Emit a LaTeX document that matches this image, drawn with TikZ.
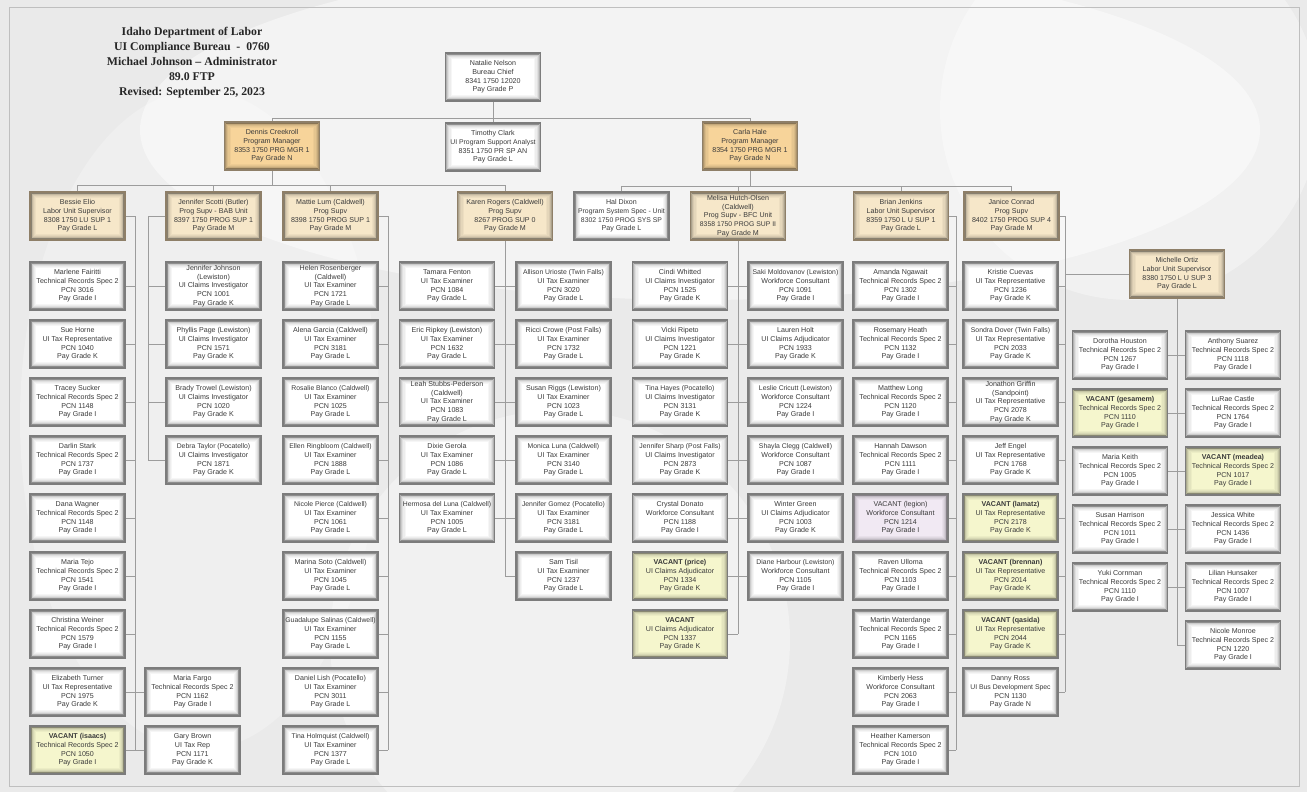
\documentclass[tikz,border=0pt]{standalone}
\usepackage{fontspec}
\setmainfont{Liberation Sans}
\newfontfamily\ttlfont{Liberation Serif}
\definecolor{bggray}{HTML}{EAEAEA}
\definecolor{linegray}{HTML}{9C9C9C}
\definecolor{edgegray}{HTML}{7C7C7C}
\definecolor{edgebrown}{HTML}{8E7F68}
\definecolor{txtgray}{HTML}{3A3A3A}
\definecolor{orng}{HTML}{F7D49A}
\definecolor{tanc}{HTML}{F6E7C9}
\definecolor{yel}{HTML}{F5F6CD}
\definecolor{lav}{HTML}{F1E9F3}
\newcommand{\sq}[1]{{\fontsize{6.85}{8.7}\selectfont #1}}
\tikzset{
 inshade/.style={path picture={
   \foreach \myd/\myo in {0.9/0.30,2.1/0.20,3.3/0.12,4.5/0.07,5.7/0.035}{
     \draw[black,opacity=\myo,line width=1.3pt]
       ([xshift=\myd pt,yshift=-\myd pt]path picture bounding box.north west)
       rectangle ([xshift=-\myd pt,yshift=\myd pt]path picture bounding box.south east);
   }}},
 conn/.style={draw=linegray, line width=0.7pt},
 base/.style={draw=edgegray, line width=1.5pt, minimum width=95pt, minimum height=48pt,
   inner sep=0pt, align=center, font=\fontsize{7.1}{8.7}\selectfont, text=txtgray, inshade},
 wbox/.style={base, fill=white},
 obox/.style={base, fill=orng, draw=edgebrown},
 tbox/.style={base, fill=tanc, draw=edgebrown},
 ybox/.style={base, fill=yel},
 lbox/.style={base, fill=lav},
}
\begin{document}
\begin{tikzpicture}[x=1pt,y=-1pt]
\useasboundingbox (0,0) rectangle (1307,792);
% background
\fill[bggray] (0,0) rectangle (1307,792);
\fill[white,opacity=0.45] (700,130) ellipse (560 and 170);
\fill[white,opacity=0.35] (560,640) circle (230);
\fill[white,opacity=0.35] (1130,110) circle (190);
\fill[white,opacity=0.25] (200,420) ellipse (180 and 330);
\draw[draw=white!75!black, line width=0.8pt] (9,7) rectangle (1299,786);

% title
\node[font=\ttlfont\bfseries\fontsize{11.8}{15}\selectfont, text=black!85, align=center] (title) at (192,63)
 {Idaho Department of Labor\\UI Compliance Bureau \ - \ 0760\\Michael Johnson – Administrator\\89.0 FTP\\Revised: September 25, 2023};

% levels 1-2
\node[wbox] (nn) at (493,77) {Natalie Nelson\\Bureau Chief\\8341 1750 12020\\Pay Grade P};
\node[wbox] (tc) at (493,147) {Timothy Clark\\\sq{UI Program Support Analyst}\\8351 1750 PR SP AN\\Pay Grade L};
\node[obox] (dc) at (272,146) {Dennis Creekroll\\Program Manager\\8353 1750 PRG MGR 1\\Pay Grade N};
\node[obox] (ch) at (750,146) {Carla Hale\\Program Manager\\8354 1750 PRG MGR 1\\Pay Grade N};

% level 3
\node[tbox] (be) at (77.5,216) {Bessie Elio\\Labor Unit Supervisor\\8308 1750 LU SUP 1\\Pay Grade L};
\node[tbox] (js) at (213.5,216) {Jennifer Scotti (Butler)\\Prog Supv - BAB Unit\\8397 1750 PROG SUP 1\\Pay Grade M};
\node[tbox] (ml) at (330.5,216) {Mattie Lum (Caldwell)\\Prog Supv\\8398 1750 PROG SUP 1\\Pay Grade M};
\node[tbox] (kr) at (505,216) {Karen Rogers (Caldwell)\\Prog Supv\\8267 PROG SUP 0\\Pay Grade M};
\node[wbox] (hd) at (621.5,216) {Hal Dixon\\\sq{Program System Spec - Unit}\\\sq{8302 1750 PROG SYS SP}\\Pay Grade L};
\node[tbox] (mh) at (738,216) {Melisa Hutch-Olsen\\(Caldwell)\\Prog Supv - BFC Unit\\\sq{8358 1750 PROG SUP II}\\Pay Grade M};
\node[tbox] (bj) at (901,216) {Brian Jenkins\\Labor Unit Supervisor\\8359 1750 L U SUP 1\\Pay Grade L};
\node[tbox] (jc) at (1011.5,216) {Janice Conrad\\Prog Supv\\8402 1750 PROG SUP 4\\Pay Grade M};
\node[tbox] (mo) at (1177,274) {Michelle Ortiz\\Labor Unit Supervisor\\8380 1750 L U SUP 3\\Pay Grade L};

% column A (Bessie)
\node[wbox] (a1) at (77.5,286) {Marlene Fairitti\\Technical Records Spec 2\\PCN 3016\\Pay Grade I};
\node[wbox] (a2) at (77.5,344) {Sue Horne\\UI Tax Representative\\PCN 1040\\Pay Grade K};
\node[wbox] (a3) at (77.5,402) {Tracey Sucker\\Technical Records Spec 2\\PCN 1148\\Pay Grade I};
\node[wbox] (a4) at (77.5,460) {Darlin Stark\\Technical Records Spec 2\\PCN 1737\\Pay Grade I};
\node[wbox] (a5) at (77.5,518) {Dana Wagner\\Technical Records Spec 2\\PCN 1148\\Pay Grade I};
\node[wbox] (a6) at (77.5,576) {Maria Tejo\\Technical Records Spec 2\\PCN 1541\\Pay Grade I};
\node[wbox] (a7) at (77.5,634) {Christina Weiner\\Technical Records Spec 2\\PCN 1579\\Pay Grade I};
\node[wbox] (a8) at (77.5,692) {Elizabeth Turner\\UI Tax Representative\\PCN 1975\\Pay Grade K};
\node[ybox] (a9) at (77.5,750) {\textbf{VACANT (isaacs)}\\Technical Records Spec 2\\PCN 1050\\Pay Grade I};
\node[wbox] (m8) at (192.5,692) {Maria Fargo\\Technical Records Spec 2\\PCN 1162\\Pay Grade I};
\node[wbox] (m9) at (192.5,750) {Gary Brown\\UI Tax Rep\\PCN 1171\\Pay Grade K};

% column B (Jennifer)
\node[wbox] (b1) at (213.5,286) {Jennifer Johnson\\(Lewiston)\\UI Claims Investigator\\PCN 1001\\Pay Grade K};
\node[wbox] (b2) at (213.5,344) {Phyllis Page (Lewiston)\\UI Claims Investigator\\PCN 1571\\Pay Grade K};
\node[wbox] (b3) at (213.5,402) {Brady Trowel (Lewiston)\\UI Claims Investigator\\PCN 1020\\Pay Grade K};
\node[wbox] (b4) at (213.5,460) {\sq{Debra Taylor (Pocatello)}\\UI Claims Investigator\\PCN 1871\\Pay Grade K};

% column C (Mattie)
\node[wbox] (c1) at (330.5,286) {Helen Rosenberger\\(Caldwell)\\UI Tax Examiner\\PCN 1721\\Pay Grade L};
\node[wbox] (c2) at (330.5,344) {Alena Garcia (Caldwell)\\UI Tax Examiner\\PCN 3181\\Pay Grade L};
\node[wbox] (c3) at (330.5,402) {\sq{Rosalie Blanco (Caldwell)}\\UI Tax Examiner\\PCN 1025\\Pay Grade L};
\node[wbox] (c4) at (330.5,460) {\sq{Ellen Ringbloom (Caldwell)}\\UI Tax Examiner\\PCN 1888\\Pay Grade L};
\node[wbox] (c5) at (330.5,518) {\sq{Nicole Pierce (Caldwell)}\\UI Tax Examiner\\PCN 1061\\Pay Grade L};
\node[wbox] (c6) at (330.5,576) {Marina Soto (Caldwell)\\UI Tax Examiner\\PCN 1045\\Pay Grade L};
\node[wbox] (c7) at (330.5,634) {\sq{Guadalupe Salinas (Caldwell)}\\UI Tax Examiner\\PCN 1155\\Pay Grade L};
\node[wbox] (c8) at (330.5,692) {Daniel Lish (Pocatello)\\UI Tax Examiner\\PCN 3011\\Pay Grade L};
\node[wbox] (c9) at (330.5,750) {\sq{Tina Holmquist (Caldwell)}\\UI Tax Examiner\\PCN 1377\\Pay Grade L};

% columns D (Karen)
\node[wbox] (d1) at (447,286) {Tamara Fenton\\UI Tax Examiner\\PCN 1084\\Pay Grade L};
\node[wbox] (d2) at (447,344) {Eric Ripkey (Lewiston)\\UI Tax Examiner\\PCN 1632\\Pay Grade L};
\node[wbox] (d3) at (447,402) {Leah Stubbs-Pederson\\(Caldwell)\\UI Tax Examiner\\PCN 1083\\Pay Grade L};
\node[wbox] (d4) at (447,460) {Dixie Gerola\\UI Tax Examiner\\PCN 1086\\Pay Grade L};
\node[wbox] (d5) at (447,518) {\sq{Hermosa del Luna (Caldwell)}\\UI Tax Examiner\\PCN 1005\\Pay Grade L};
\node[wbox] (q1) at (563.5,286) {\sq{Allison Urioste (Twin Falls)}\\UI Tax Examiner\\PCN 3020\\Pay Grade L};
\node[wbox] (q2) at (563.5,344) {Ricci Crowe (Post Falls)\\UI Tax Examiner\\PCN 1732\\Pay Grade L};
\node[wbox] (q3) at (563.5,402) {Susan Riggs (Lewiston)\\UI Tax Examiner\\PCN 1023\\Pay Grade L};
\node[wbox] (q4) at (563.5,460) {\sq{Monica Luna (Caldwell)}\\UI Tax Examiner\\PCN 3140\\Pay Grade L};
\node[wbox] (q5) at (563.5,518) {\sq{Jennifer Gomez (Pocatello)}\\UI Tax Examiner\\PCN 3181\\Pay Grade L};
\node[wbox] (q6) at (563.5,576) {Sam Tisil\\UI Tax Examiner\\PCN 1237\\Pay Grade L};

% columns E (Melisa)
\node[wbox] (e1) at (680,286) {Cindi Whitted\\UI Claims Investigator\\PCN 1525\\Pay Grade K};
\node[wbox] (e2) at (680,344) {Vicki Ripeto\\UI Claims Investigator\\PCN 1221\\Pay Grade K};
\node[wbox] (e3) at (680,402) {\sq{Tina Hayes (Pocatello)}\\UI Claims Investigator\\PCN 3131\\Pay Grade K};
\node[wbox] (e4) at (680,460) {\sq{Jennifer Sharp (Post Falls)}\\UI Claims Investigator\\PCN 2873\\Pay Grade K};
\node[wbox] (e5) at (680,518) {Crystal Donato\\Workforce Consultant\\PCN 1188\\Pay Grade I};
\node[ybox] (e6) at (680,576) {\textbf{VACANT (price)}\\UI Claims Adjudicator\\PCN 1334\\Pay Grade K};
\node[ybox] (e7) at (680,634) {\textbf{VACANT}\\UI Claims Adjudicator\\PCN 1337\\Pay Grade K};
\node[wbox] (s1) at (795.5,286) {\sq{Saki Moldovanov (Lewiston)}\\Workforce Consultant\\PCN 1091\\Pay Grade I};
\node[wbox] (s2) at (795.5,344) {Lauren Holt\\UI Claims Adjudicator\\PCN 1933\\Pay Grade K};
\node[wbox] (s3) at (795.5,402) {\sq{Leslie Cricutt (Lewiston)}\\Workforce Consultant\\PCN 1224\\Pay Grade I};
\node[wbox] (s4) at (795.5,460) {\sq{Shayla Clegg (Caldwell)}\\Workforce Consultant\\PCN 1087\\Pay Grade I};
\node[wbox] (s5) at (795.5,518) {Winter Green\\UI Claims Adjudicator\\PCN 1003\\Pay Grade K};
\node[wbox] (s6) at (795.5,576) {\sq{Diane Harbour (Lewiston)}\\Workforce Consultant\\PCN 1105\\Pay Grade I};

% column F (Brian)
\node[wbox] (f1) at (900.5,286) {Amanda Ngawait\\Technical Records Spec 2\\PCN 1302\\Pay Grade I};
\node[wbox] (f2) at (900.5,344) {Rosemary Heath\\Technical Records Spec 2\\PCN 1132\\Pay Grade I};
\node[wbox] (f3) at (900.5,402) {Matthew Long\\Technical Records Spec 2\\PCN 1120\\Pay Grade I};
\node[wbox] (f4) at (900.5,460) {Hannah Dawson\\Technical Records Spec 2\\PCN 1111\\Pay Grade I};
\node[lbox] (f5) at (900.5,518) {VACANT (legion)\\Workforce Consultant\\PCN 1214\\Pay Grade I};
\node[wbox] (f6) at (900.5,576) {Raven Ulloma\\Technical Records Spec 2\\PCN 1103\\Pay Grade I};
\node[wbox] (f7) at (900.5,634) {Martin Waterdange\\Technical Records Spec 2\\PCN 1165\\Pay Grade I};
\node[wbox] (f8) at (900.5,692) {Kimberly Hess\\Workforce Consultant\\PCN 2063\\Pay Grade I};
\node[wbox] (f9) at (900.5,750) {Heather Kamerson\\Technical Records Spec 2\\PCN 1010\\Pay Grade I};

% column G (Janice)
\node[wbox] (g1) at (1010.5,286) {Kristie Cuevas\\UI Tax Representative\\PCN 1236\\Pay Grade K};
\node[wbox] (g2) at (1010.5,344) {\sq{Sondra Dover (Twin Falls)}\\UI Tax Representative\\PCN 2033\\Pay Grade K};
\node[wbox] (g3) at (1010.5,402) {Jonathon Griffin\\(Sandpoint)\\UI Tax Representative\\PCN 2078\\Pay Grade K};
\node[wbox] (g4) at (1010.5,460) {Jeff Engel\\UI Tax Representative\\PCN 1768\\Pay Grade K};
\node[ybox] (g5) at (1010.5,518) {\textbf{VACANT (lamatz)}\\UI Tax Representative\\PCN 2178\\Pay Grade K};
\node[ybox] (g6) at (1010.5,576) {\textbf{VACANT (brennan)}\\UI Tax Representative\\PCN 2014\\Pay Grade K};
\node[ybox] (g7) at (1010.5,634) {\textbf{VACANT (qasida)}\\UI Tax Representative\\PCN 2044\\Pay Grade K};
\node[wbox] (g8) at (1010.5,692) {Danny Ross\\\sq{UI Bus Development Spec}\\PCN 1130\\Pay Grade N};

% columns H (Michelle)
\node[wbox] (h1) at (1120,355) {Dorotha Houston\\Technical Records Spec 2\\PCN 1267\\Pay Grade I};
\node[ybox] (h2) at (1120,413) {\textbf{VACANT (gesamem)}\\Technical Records Spec 2\\PCN 1110\\Pay Grade I};
\node[wbox] (h3) at (1120,471) {Maria Keith\\Technical Records Spec 2\\PCN 1005\\Pay Grade I};
\node[wbox] (h4) at (1120,529) {Susan Harrison\\Technical Records Spec 2\\PCN 1011\\Pay Grade I};
\node[wbox] (h5) at (1120,587) {Yuki Cornman\\Technical Records Spec 2\\PCN 1110\\Pay Grade I};
\node[wbox] (v1) at (1233,355) {Anthony Suarez\\Technical Records Spec 2\\PCN 1118\\Pay Grade I};
\node[wbox] (v2) at (1233,413) {LuRae Castle\\Technical Records Spec 2\\PCN 1764\\Pay Grade I};
\node[ybox] (v3) at (1233,471) {\textbf{VACANT (meadea)}\\Technical Records Spec 2\\PCN 1017\\Pay Grade I};
\node[wbox] (v4) at (1233,529) {Jessica White\\Technical Records Spec 2\\PCN 1436\\Pay Grade I};
\node[wbox] (v5) at (1233,587) {Lilian Hunsaker\\Technical Records Spec 2\\PCN 1007\\Pay Grade I};
\node[wbox] (v6) at (1233,645) {Nicole Monroe\\Technical Records Spec 2\\PCN 1220\\Pay Grade I};

% ---------- connectors ----------
\coordinate (busD) at (0,185);
\coordinate (busC) at (0,186);
\coordinate (tA) at (135,0);
\coordinate (tB) at (148,0);
\coordinate (tC) at (388,0);
\coordinate (tD) at (505,0);
\coordinate (tE) at (738,0);
\coordinate (tF) at (956,0);
\coordinate (tG) at (1065,0);
\coordinate (tH) at (1177,0);

\draw[conn] (nn.south) -- (tc.north);
\draw[conn] (dc.north) -- ++(0,-3) -| (ch.north);

\draw[conn] (dc.south) -- (dc.south |- busD);
\draw[conn] (be.north) -- (be.north |- busD) -- (kr.north |- busD) -- (kr.north);
\draw[conn] (js.north) -- (js.north |- busD);
\draw[conn] (ml.north) -- (ml.north |- busD);

\draw[conn] (ch.south) -- (ch.south |- busC);
\draw[conn] (hd.north) -- (hd.north |- busC) -- (jc.north |- busC) -- (jc.north);
\draw[conn] (mh.north) -- (mh.north |- busC);
\draw[conn] (bj.north) -- (bj.north |- busC);

% Bessie
\draw[conn] (be.east) -- (be.east -| tA) -- (a9.east -| tA);
\foreach \n in {a1,a2,a3,a4,a5,a6,a7,a8,a9} \draw[conn] (\n.east) -- (\n.east -| tA);
\foreach \n in {m8,m9} \draw[conn] (\n.west) -- (\n.west -| tA);
% Jennifer
\draw[conn] (js.west) -- (js.west -| tB) -- (b4.west -| tB);
\foreach \n in {b1,b2,b3,b4} \draw[conn] (\n.west) -- (\n.west -| tB);
% Mattie
\draw[conn] (ml.east) -- (ml.east -| tC) -- (c9.east -| tC);
\foreach \n in {c1,c2,c3,c4,c5,c6,c7,c8,c9} \draw[conn] (\n.east) -- (\n.east -| tC);
% Karen
\draw[conn] (kr.south) -- (kr.south |- q6.west);
\foreach \n in {d1,d2,d3,d4,d5} \draw[conn] (\n.east) -- (\n.east -| tD);
\foreach \n in {q1,q2,q3,q4,q5,q6} \draw[conn] (\n.west) -- (\n.west -| tD);
% Melisa
\draw[conn] (mh.south) -- (mh.south |- e7.east);
\foreach \n in {e1,e2,e3,e4,e5,e6,e7} \draw[conn] (\n.east) -- (\n.east -| tE);
\foreach \n in {s1,s2,s3,s4,s5,s6} \draw[conn] (\n.west) -- (\n.west -| tE);
% Brian
\draw[conn] (bj.east) -- (bj.east -| tF) -- (f9.east -| tF);
\foreach \n in {f1,f2,f3,f4,f5,f6,f7,f8,f9} \draw[conn] (\n.east) -- (\n.east -| tF);
% Janice
\draw[conn] (jc.east) -- (jc.east -| tG) -- (g8.east -| tG);
\foreach \n in {g1,g2,g3,g4,g5,g6,g7,g8} \draw[conn] (\n.east) -- (\n.east -| tG);
\draw[conn] (mo.west) -- (mo.west -| tG);
% Michelle
\draw[conn] (mo.south) -- (mo.south |- v6.west);
\foreach \n in {h1,h2,h3,h4,h5} \draw[conn] (\n.east) -- (\n.east -| tH);
\foreach \n in {v1,v2,v3,v4,v5,v6} \draw[conn] (\n.west) -- (\n.west -| tH);
\end{tikzpicture}
\end{document}
